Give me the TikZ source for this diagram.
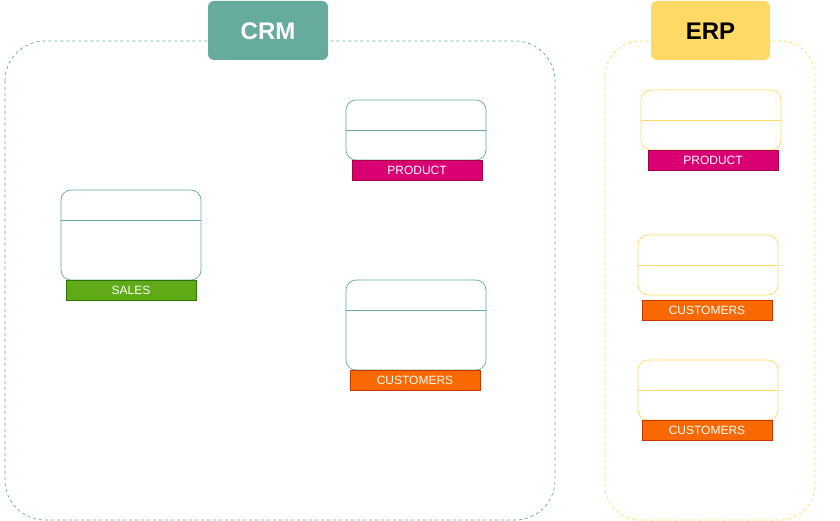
\documentclass[tikz,border=0pt]{standalone}
\usepackage{fontspec}
\setmainfont{Liberation Sans}
\definecolor{crm}{HTML}{67AB9F}
\definecolor{erp}{HTML}{FFD966}
\definecolor{prodfill}{HTML}{D80073}
\definecolor{proddraw}{HTML}{A50040}
\definecolor{salesfill}{HTML}{60A917}
\definecolor{salesdraw}{HTML}{2D7600}
\definecolor{custfill}{HTML}{FA6800}
\definecolor{custdraw}{HTML}{C73500}
\tikzset{
  container/.style={draw, dashed, dash pattern=on 3pt off 3pt, line width=0.7pt},
  titlefont/.style={font=\bfseries\fontsize{24}{26}\selectfont},
  tablebox/.style={draw, rounded corners=10pt, line width=0.7pt},
  labelbar/.style={draw, line width=0.7pt, text=white, font=\fontsize{12}{13}\selectfont, inner sep=0pt, minimum width=130pt, minimum height=20pt}
}
\begin{document}
\begin{tikzpicture}[x=1pt,y=-1pt]
\useasboundingbox (0,0) rectangle (840,521);
% containers
\draw[container, crm, rounded corners=40pt] (5,41) rectangle (555,520);
\draw[container, erp, rounded corners=35pt] (605,41) rectangle (815,520);
% titles
\fill[crm, rounded corners=6pt] (208,1) rectangle (328,60);
\node[text=white, titlefont] (crmt) at (268,31) {CRM};
\fill[erp, rounded corners=6pt] (651,1) rectangle (770,60);
\node[text=black, titlefont] (erpt) at (710.5,31) {ERP};
% CRM tables
\draw[tablebox, crm] (346,100) rectangle (486,160);
\draw[crm, line width=0.7pt] (346,130) -- (486,130);
\node[labelbar, fill=prodfill, draw=proddraw] (cprod) at (417,170) {PRODUCT};

\draw[tablebox, crm] (61,190) rectangle (201,280);
\draw[crm, line width=0.7pt] (61,220) -- (201,220);
\node[labelbar, fill=salesfill, draw=salesdraw] (csales) at (131,290) {SALES};

\draw[tablebox, crm] (346,280) rectangle (486,370);
\draw[crm, line width=0.7pt] (346,310) -- (486,310);
\node[labelbar, fill=custfill, draw=custdraw] (ccust) at (415,380) {CUSTOMERS};

% ERP tables
\draw[tablebox, erp] (641,90) rectangle (781,150);
\draw[erp, line width=0.7pt] (641,120) -- (781,120);
\node[labelbar, fill=prodfill, draw=proddraw] (eprod) at (713,160) {PRODUCT};

\draw[tablebox, erp] (638,235) rectangle (778,295);
\draw[erp, line width=0.7pt] (638,265) -- (778,265);
\node[labelbar, fill=custfill, draw=custdraw] (ecust1) at (707,310) {CUSTOMERS};

\draw[tablebox, erp] (638,360) rectangle (778,420);
\draw[erp, line width=0.7pt] (638,390) -- (778,390);
\node[labelbar, fill=custfill, draw=custdraw] (ecust2) at (707,430) {CUSTOMERS};
\end{tikzpicture}
\end{document}
